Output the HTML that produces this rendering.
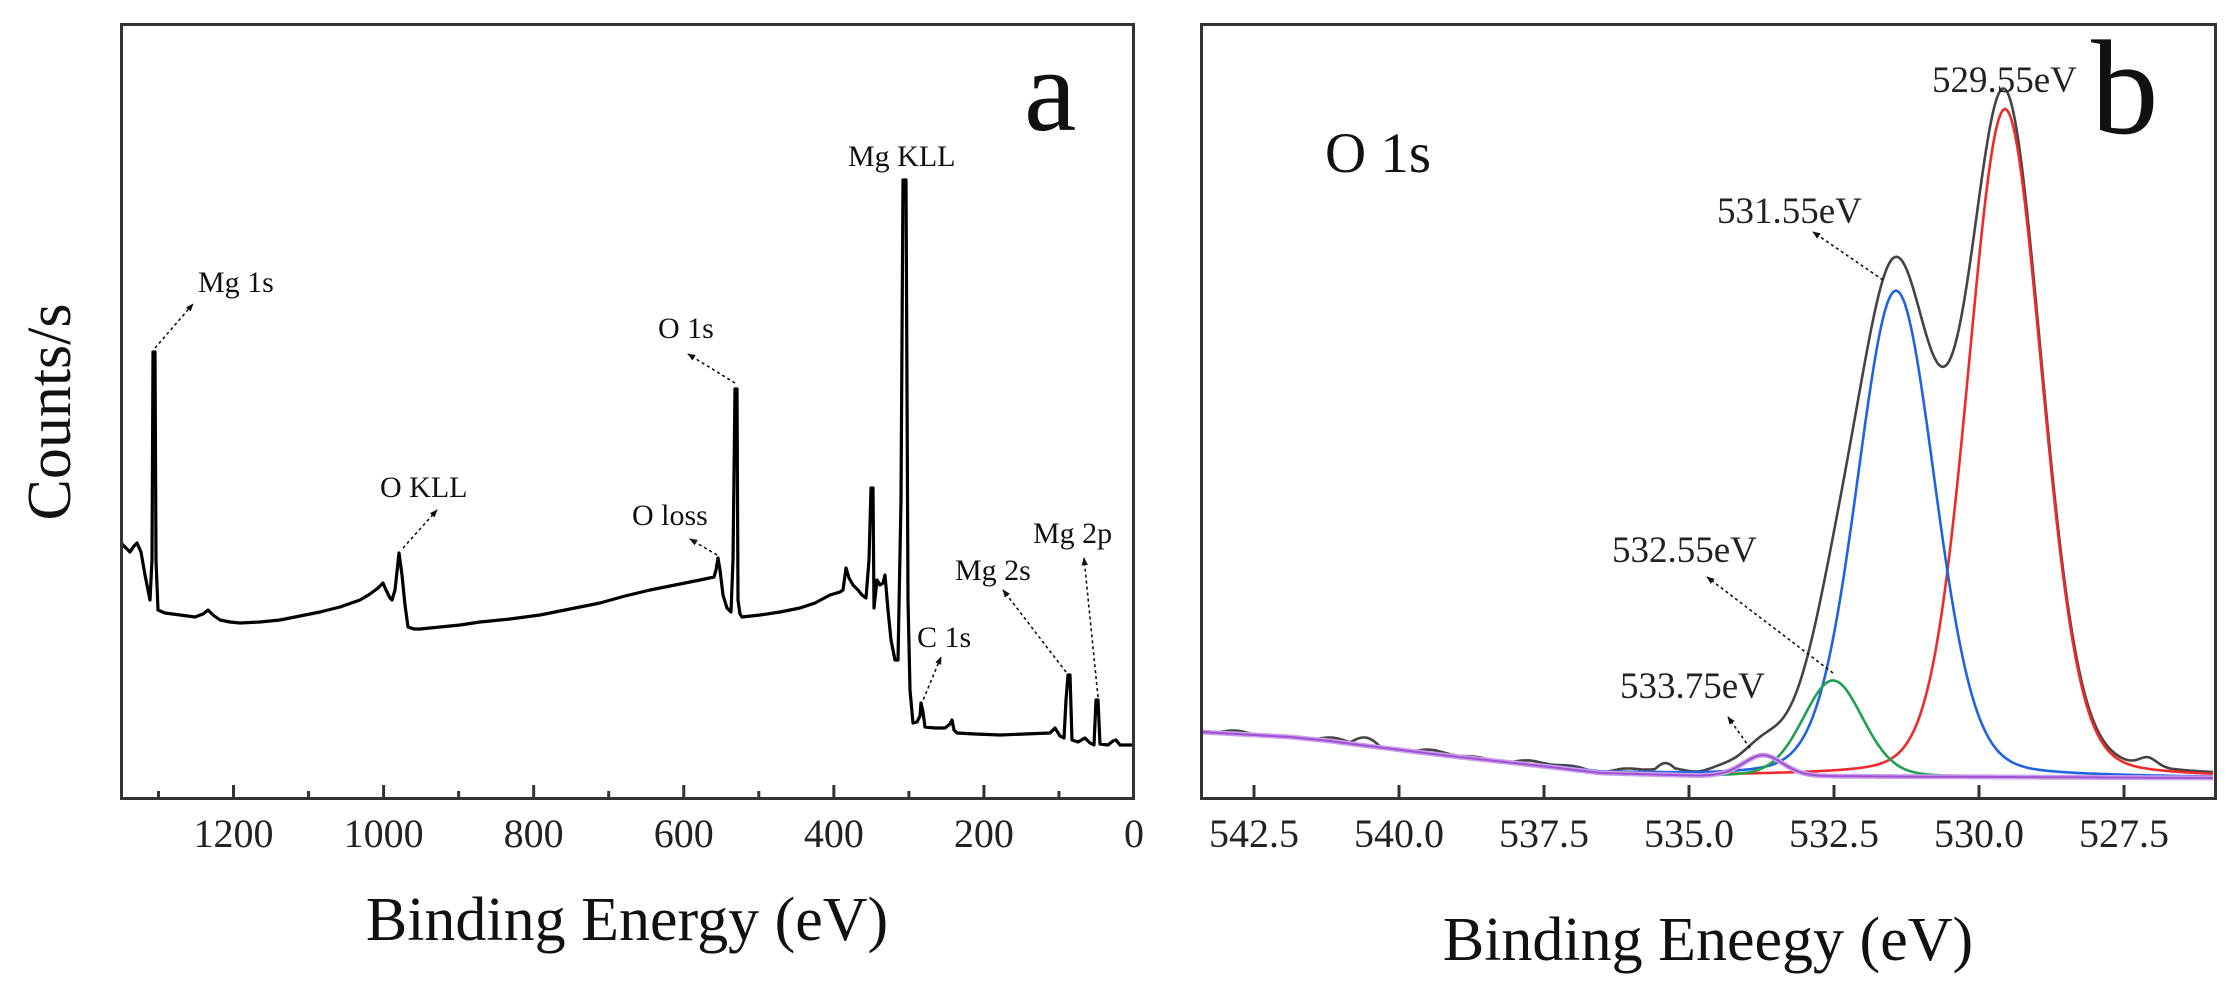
<!DOCTYPE html>
<html><head><meta charset="utf-8"><style>
html,body{margin:0;padding:0;background:#fff;}
svg{display:block;font-family:"Liberation Serif",serif;}
</style></head><body>
<svg id="s" width="2237" height="990" viewBox="0 0 2237 990" xmlns="http://www.w3.org/2000/svg">
<defs>
<marker id="ah" viewBox="0 0 10 10" refX="9" refY="5" markerWidth="5" markerHeight="5" orient="auto"><path d="M0,1 L10,5 L0,9 z" fill="#111"/></marker>
</defs>
<rect width="2237" height="990" fill="#fff"/>
<!-- Panel a -->
<polyline fill="none" stroke="#000" stroke-width="3.2" stroke-linejoin="round" points="
121,543 126,548 130,552 134,546 137,543 141,552 145,575 150,600 152,560 153,352 155,352 156,560 158,610 165,613 180,615 195,617 203,614 208,610 213,615 220,620 230,622 240,623 260,622 280,620 300,616 320,612 340,607 360,600 370,594 378,588 383,583 386,590 390,598 392,600 395,590 399,553 402,575 405,605 408,627 414,629 420,629 440,627 460,625 480,622 510,619 540,615 570,609 600,603 625,596 650,590 675,585 700,580 714,577 716,570 718,558 720,570 723,595 727,608 731,612 733,560 735,389 737,389 738,600 740,614 742,617 760,615 780,612 800,608 815,603 830,595 840,592 843,590 846,568 849,578 853,585 858,590 862,595 866,598 869,560 871,488 873,488 874,608 877,580 880,585 883,583 885,575 888,610 891,640 895,660 898,660 901,500 903,180 906,180 908,600 910,690 913,723 917,722 920,716 921,703 923,712 925,727 935,728 945,728 950,724 952,720 954,730 957,733 975,734 1000,735 1025,734 1050,733 1055,728 1060,736 1064,738 1066,700 1068,675 1070,675 1072,740 1078,742 1085,738 1090,743 1094,745 1096,700 1098,700 1100,744 1108,745 1113,741 1116,740 1120,745 1134,745"/>
<g stroke="#111" stroke-width="1.6" stroke-dasharray="3,3" fill="none" marker-end="url(#ah)">
<line x1="155" y1="348" x2="193" y2="304"/>
<line x1="735" y1="383" x2="688" y2="354"/>
<line x1="403" y1="548" x2="437" y2="510"/>
<line x1="717" y1="555" x2="690" y2="539"/>
<line x1="921" y1="705" x2="941" y2="657"/>
<line x1="1066" y1="672" x2="1003" y2="590"/>
<line x1="1098" y1="697" x2="1084" y2="558"/>
</g>
<g font-size="30" fill="#111">
<text x="198" y="292">Mg 1s</text>
<text x="658" y="338">O 1s</text>
<text x="380" y="497">O KLL</text>
<text x="632" y="525">O loss</text>
<text x="917" y="647">C 1s</text>
<text x="955" y="580">Mg 2s</text>
<text x="1033" y="543">Mg 2p</text>
<text x="848" y="166">Mg KLL</text>
</g>
<text x="1024" y="130" font-size="118" fill="#111">a</text>
<rect x="121.5" y="24.5" width="1012" height="774" fill="none" stroke="#333" stroke-width="3"/>
<g id="ticksA" stroke="#333" stroke-width="3"></g>
<g id="labA" font-size="40" fill="#222" text-anchor="middle"></g>
<text x="627" y="940" font-size="62" text-anchor="middle" fill="#111">Binding Energy (eV)</text>
<text transform="translate(70,412) rotate(-90)" font-size="62" text-anchor="middle" fill="#111">Counts/s</text>

<!-- Panel b -->
<g id="curvesB" fill="none" stroke-width="2.6"></g>
<g stroke="#111" stroke-width="1.6" stroke-dasharray="3,3" fill="none" marker-end="url(#ah)">
<line x1="1883" y1="280" x2="1813" y2="232"/>
<line x1="1833" y1="673" x2="1707" y2="577"/>
<line x1="1750" y1="748" x2="1728" y2="717"/>
</g>
<g font-size="37" fill="#222">
<text x="1932" y="92">529.55eV</text>
<text x="1717" y="223">531.55eV</text>
<text x="1612" y="562">532.55eV</text>
<text x="1620" y="698">533.75eV</text>
</g>
<text x="1325" y="172" font-size="57" fill="#111">O 1s</text>
<text x="2091" y="133" font-size="135" fill="#111">b</text>
<rect x="1201.5" y="24.5" width="1014" height="774" fill="none" stroke="#333" stroke-width="3"/>
<g id="ticksB" stroke="#333" stroke-width="3"></g>
<g id="labB" font-size="40" fill="#222" text-anchor="middle"></g>
<text x="1708" y="960" font-size="62" text-anchor="middle" fill="#111">Binding Eneegy (eV)</text>
</svg>
<script>
var NS="http://www.w3.org/2000/svg";
function el(p,t,a,txt){var e=document.createElementNS(NS,t);for(var k in a)e.setAttribute(k,a[k]);if(txt!==undefined)e.textContent=txt;document.getElementById(p).appendChild(e);return e;}
for(var v=0;v<=1300;v+=100){var x=1134-v*0.7504;var maj=(v%200==0);
 if(x>123&&x<1133)el("ticksA","line",{x1:x,y1:798,x2:x,y2:maj?785:791});
 if(maj)el("labA","text",{x:x,y:847},String(v));}
function X(e){return 1979-(e-530)*58;}
for(var e=527.5;e<=542.5;e+=2.5){var x=X(e);el("ticksB","line",{x1:x,y1:798,x2:x,y2:785});el("labB","text",{x:x,y:847},e.toFixed(1));}
var bp=[[1201,732],[1290,737],[1330,741],[1360,745],[1450,756],[1550,767],[1600,773],[1700,776],[2000,777],[2216,778]];
function B(x){for(var i=0;i<bp.length-1;i++){if(x<=bp[i+1][0]){var t=(x-bp[i][0])/(bp[i+1][0]-bp[i][0]);return bp[i][1]+t*(bp[i+1][1]-bp[i][1]);}}return 778;}
function g(x,c,a,s){var d=x-c;return a*(0.85*Math.exp(-d*d/(2*s*s))+0.15/(1+d*d/(s*s*1.4)));}
var pk=[["#ee2a2a",2005,668,37],["#1f63e0",1896,486,39],["#22a050",1833,96,30],["#b060d0",1763,21,20]];
function path(f){var d="";for(var x=1203;x<=2214;x+=2){d+=(x==1203?"M":"L")+x+","+f(x).toFixed(1);}return d;}
function noise(x){return 1.5*Math.sin(x*0.06)+1.2*Math.sin(x*0.13+1);}
el("curvesB","path",{d:path(function(x){var s=0;for(var i=0;i<4;i++)s+=g(x,pk[i][1],pk[i][2],pk[i][3]);
 var n=(x<1740?noise(x):0)+(x>1350&&x<1380?-8*Math.sin((x-1350)/30*Math.PI):0)+(x>1655&&x<1675?-5*Math.sin((x-1655)/20*Math.PI):0);
 return B(x)-s-g(x,2148,9,9)+n;}),stroke:"#444"});
for(var i=0;i<3;i++)(function(p){el("curvesB","path",{d:path(function(x){return B(x)-g(x,p[1],p[2],p[3]);}),stroke:p[0]});})(pk[i]);
el("curvesB","path",{d:path(function(x){return B(x)-g(x,1763,21,20);}),stroke:"#c9a0ec","stroke-width":"5"});
el("curvesB","path",{d:path(function(x){return B(x)-g(x,1763,21,20);}),stroke:"#a050d0","stroke-width":"2"});
</script>
</body></html>
